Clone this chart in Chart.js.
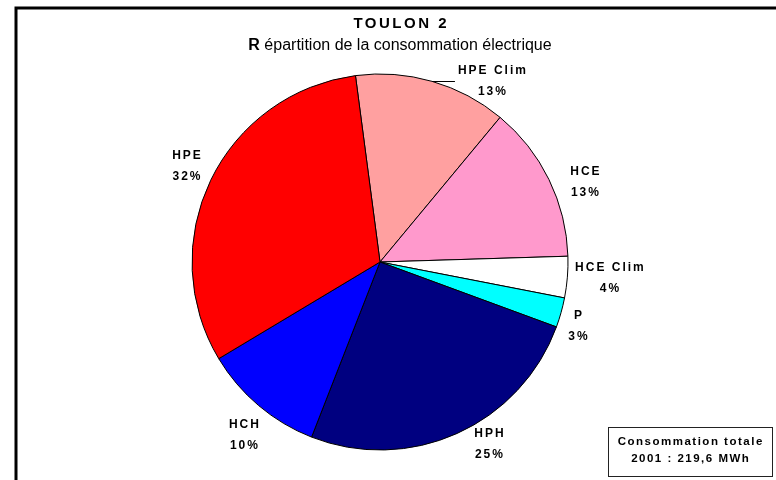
<!DOCTYPE html>
<html lang="fr">

<head>
  <meta charset="UTF-8">
  <meta name="viewport" content="width=device-width, initial-scale=1.0">
  <script src="https://cdn.jsdelivr.net/npm/chart.js"></script>
  <title>Toulon 2</title>
  <style>
    body {
      margin: 0;
      background: #fff;
    }

    .wrap {
      position: relative;
      width: 776px;
      height: 480px;
    }
  </style>
</head>

<body>
  <div class="wrap"><canvas id="myChart"></canvas></div>

  <script>
    // consommation 2001 (MWh) par poste
    const categories = ['HPE Clim', 'HCE', 'HCE Clim', 'P', 'HPH', 'HCH', 'HPE'];
    const consumption = [28.8, 29.6, 7.8, 5.6, 55.6, 23.0, 69.2];
    const sliceColors = ['#FFA0A0', '#FF99CC', '#FFFFFF', '#00FFFF', '#000080', '#0000FF', '#FF0000'];
    const titleText = 'TOULON 2';
    const subtitleText = ['R', ' épartition de la consommation électrique'];
    const totalBox = ['Consommation totale', '2001 : 219,6 MWh'];

    // placement des étiquettes : décalage d'angle (deg) et distance au bord du camembert
    const labelPlacement = [
      { turn: 15.6, gap: 25, leader: true },
      { turn: 4.7, gap: 32 },
      { turn: -0.6, gap: 42 },
      { turn: 2.3, gap: 20 },
      { turn: -6.7, gap: 24 },
      { turn: -2, gap: 32 },
      { turn: 0.6, gap: 28 },
    ];

    const FONT = '"Liberation Sans", Arial, sans-serif';

    // texte centré avec espacement des lettres
    function spacedText(ctx, text, cx, y, font, spacing) {
      ctx.font = font;
      ctx.letterSpacing = '0px';
      const w = ctx.measureText(text).width + spacing * (text.length - 1);
      ctx.letterSpacing = spacing + 'px';
      ctx.textAlign = 'left';
      ctx.fillText(text, cx - w / 2, y);
      ctx.letterSpacing = '0px';
      return w;
    }

    const decorPlugin = {
      id: 'decor',
      beforeDraw(chart) {
        const ctx = chart.ctx;
        ctx.save();
        // cadre
        ctx.strokeStyle = '#000';
        ctx.lineWidth = 3;
        ctx.beginPath();
        ctx.moveTo(16, 490);
        ctx.lineTo(16, 8);
        ctx.lineTo(790, 8);
        ctx.stroke();

        ctx.fillStyle = '#000';
        ctx.textBaseline = 'middle';
        spacedText(ctx, titleText, 400, 24, 'bold 15px ' + FONT, 2.5);

        // sous-titre : R en gras
        ctx.font = 'bold 16px ' + FONT;
        const wR = ctx.measureText(subtitleText[0]).width;
        ctx.font = '16px ' + FONT;
        const wRest = ctx.measureText(subtitleText[1]).width;
        const x0 = 400 - (wR + wRest) / 2;
        ctx.textAlign = 'left';
        ctx.font = 'bold 16px ' + FONT;
        ctx.fillText(subtitleText[0], x0, 46);
        ctx.font = '16px ' + FONT;
        ctx.fillText(subtitleText[1], x0 + wR, 46);

        // encadré total
        ctx.lineWidth = 1;
        ctx.strokeStyle = '#222';
        ctx.strokeRect(608.5, 427.5, 164, 49);
        spacedText(ctx, totalBox[0], 690, 442, 'bold 11.5px ' + FONT, 1.5);
        spacedText(ctx, totalBox[1], 690, 459, 'bold 11.5px ' + FONT, 1.5);
        ctx.restore();
      },
      afterDatasetsDraw(chart) {
        const ctx = chart.ctx;
        const meta = chart.getDatasetMeta(0);
        const total = consumption.reduce((a, b) => a + b, 0);
        ctx.save();
        ctx.fillStyle = '#000';
        ctx.textBaseline = 'middle';
        meta.data.forEach((arc, i) => {
          const p = arc.getProps(['x', 'y', 'startAngle', 'endAngle', 'outerRadius'], true);
          const mid = (p.startAngle + p.endAngle) / 2;
          const place = labelPlacement[i];
          const a = mid + place.turn * Math.PI / 180;
          const d = p.outerRadius + place.gap;
          const lx = p.x + d * Math.cos(a);
          const ly = p.y + d * Math.sin(a);
          const font = 'bold 12px ' + FONT;
          const w = spacedText(ctx, categories[i], lx, ly - 10, font, 2);
          const pct = Math.round(consumption[i] / total * 100) + '%';
          spacedText(ctx, pct, lx, ly + 10.5, font, 2);
          if (place.leader) {
            const ax = p.x + p.outerRadius * Math.cos(mid);
            const ay = p.y + p.outerRadius * Math.sin(mid);
            ctx.strokeStyle = '#000';
            ctx.lineWidth = 1;
            ctx.beginPath();
            ctx.moveTo(ax, Math.round(ay) + 0.5);
            ctx.lineTo(lx - w / 2 - 3, Math.round(ay) + 0.5);
            ctx.stroke();
          }
        });
        ctx.restore();
      }
    };

    const ctx = document.getElementById('myChart').getContext('2d');
    const myChart = new Chart(ctx, {
      type: 'pie',
      data: {
        labels: categories,
        datasets: [{
          data: consumption,
          backgroundColor: sliceColors,
          borderColor: '#000',
          borderWidth: 1
        }]
      },
      options: {
        responsive: true,
        maintainAspectRatio: false,
        animation: false,
        rotation: -7.5,
        layout: {
          padding: { left: 191.5, right: 207.5, top: 73.5, bottom: 29.5 }
        },
        plugins: {
          legend: { display: false },
          tooltip: { enabled: false },
          title: { display: false }
        }
      },
      plugins: [decorPlugin]
    });
  </script>
</body>

</html>
